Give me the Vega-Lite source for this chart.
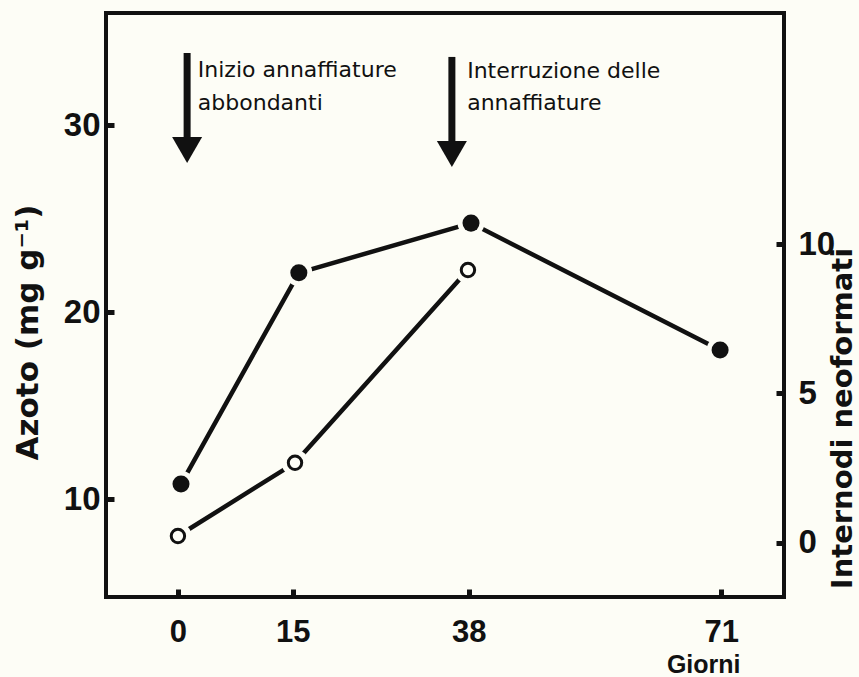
{
  "$schema": "https://vega.github.io/schema/vega-lite/v6.json",
  "width": 678,
  "height": 584,
  "autosize": {"type": "none"},
  "padding": {"left": 106, "top": 13, "right": 75, "bottom": 80},
  "background": "#fdfdf6",
  "config": {
    "view": {"stroke": "#111111", "strokeWidth": 4},
    "axis": {
      "grid": false,
      "domain": false,
      "tickColor": "#111111",
      "tickWidth": 5,
      "tickSize": -8,
      "labelColor": "#111111",
      "titleColor": "#111111",
      "labelFont": "Liberation Sans",
      "titleFont": "DejaVu Sans",
      "labelFontWeight": "bold",
      "titleFontWeight": "bold"
    }
  },
  "datasets": {
    "azoto": [
      {"day": 0.4, "value": 10.8},
      {"day": 15.8, "value": 22.1},
      {"day": 38.3, "value": 24.76},
      {"day": 70.85, "value": 17.97}
    ],
    "internodi": [
      {"day": 0.0, "value": 0.23},
      {"day": 15.3, "value": 2.68},
      {"day": 37.9, "value": 9.13}
    ],
    "arrows": [
      {"day": 1.2, "value": 33.86, "value2": 29.0},
      {"day": 35.8, "value": 33.65, "value2": 29.0}
    ],
    "heads": [
      {"day": 1.2, "value": 28.67},
      {"day": 35.8, "value": 28.46}
    ],
    "labels": [
      {"day": 2.6, "value": 32.57, "text": "Inizio annaffiature"},
      {"day": 2.6, "value": 30.8, "text": "abbondanti"},
      {"day": 37.8, "value": 32.51, "text": "Interruzione delle"},
      {"day": 37.8, "value": 30.8, "text": "annaffiature"}
    ]
  },
  "layer": [
    {
      "data": {"name": "azoto"},
      "encoding": {
        "x": {
          "field": "day",
          "type": "quantitative",
          "scale": {"domain": [-9.4, 79.2], "nice": false, "zero": false},
          "axis": {
            "values": [0, 15, 38, 71],
            "title": "Giorni",
            "labelFontSize": 31,
            "labelPadding": 28,
            "titleFont": "Liberation Sans",
            "titleFontSize": 25,
            "titleAlign": "right",
            "titleBaseline": "alphabetic",
            "titleX": 634,
            "titleY": 75
          }
        },
        "y": {
          "field": "value",
          "type": "quantitative",
          "scale": {"domain": [4.76, 36], "nice": false, "zero": false},
          "axis": {
            "orient": "left",
            "values": [10, 20, 30],
            "title": "Azoto (mg g⁻¹)",
            "labelFontSize": 33,
            "labelPadding": 14,
            "titleFontSize": 31,
            "titleAngle": 270,
            "titleAlign": "center",
            "titleBaseline": "middle",
            "titleX": -78,
            "titleY": 319
          }
        }
      },
      "layer": [
        {"mark": {"type": "line", "color": "#111111", "strokeWidth": 4.5}},
        {"mark": {"type": "point", "filled": true, "color": "#fdfdf6", "size": 720, "opacity": 1}},
        {"mark": {"type": "point", "filled": true, "color": "#111111", "size": 290, "opacity": 1}},
        {
          "data": {"name": "arrows"},
          "mark": {"type": "rule", "color": "#111111", "strokeWidth": 7},
          "encoding": {"y2": {"field": "value2"}}
        },
        {
          "data": {"name": "heads"},
          "mark": {"type": "point", "shape": "triangle-down", "filled": true, "color": "#111111", "size": 900, "opacity": 1}
        },
        {
          "data": {"name": "labels"},
          "mark": {"type": "text", "align": "left", "baseline": "alphabetic", "font": "DejaVu Sans", "fontSize": 22, "color": "#111111"},
          "encoding": {"text": {"field": "text"}}
        }
      ]
    },
    {
      "data": {"name": "internodi"},
      "encoding": {
        "x": {
          "field": "day",
          "type": "quantitative",
          "scale": {"domain": [-9.4, 79.2], "nice": false, "zero": false}
        },
        "y": {
          "field": "value",
          "type": "quantitative",
          "scale": {"domain": [-1.81, 17.73], "nice": false, "zero": false},
          "axis": {
            "orient": "right",
            "values": [0, 5, 10],
            "title": "Internodi neoformati",
            "labelFontSize": 33,
            "labelPadding": 22,
            "titleFontSize": 29,
            "titleAngle": 270,
            "titleAlign": "center",
            "titleBaseline": "middle",
            "titleX": 58,
            "titleY": 405
          }
        }
      },
      "layer": [
        {"mark": {"type": "line", "color": "#111111", "strokeWidth": 4.5}},
        {"mark": {"type": "point", "filled": true, "color": "#fdfdf6", "size": 720, "opacity": 1}},
        {"mark": {"type": "point", "filled": true, "fill": "#fdfdf6", "stroke": "#111111", "strokeWidth": 3, "size": 180, "opacity": 1}}
      ]
    }
  ],
  "resolve": {"scale": {"y": "independent"}, "axis": {"y": "independent"}}
}
